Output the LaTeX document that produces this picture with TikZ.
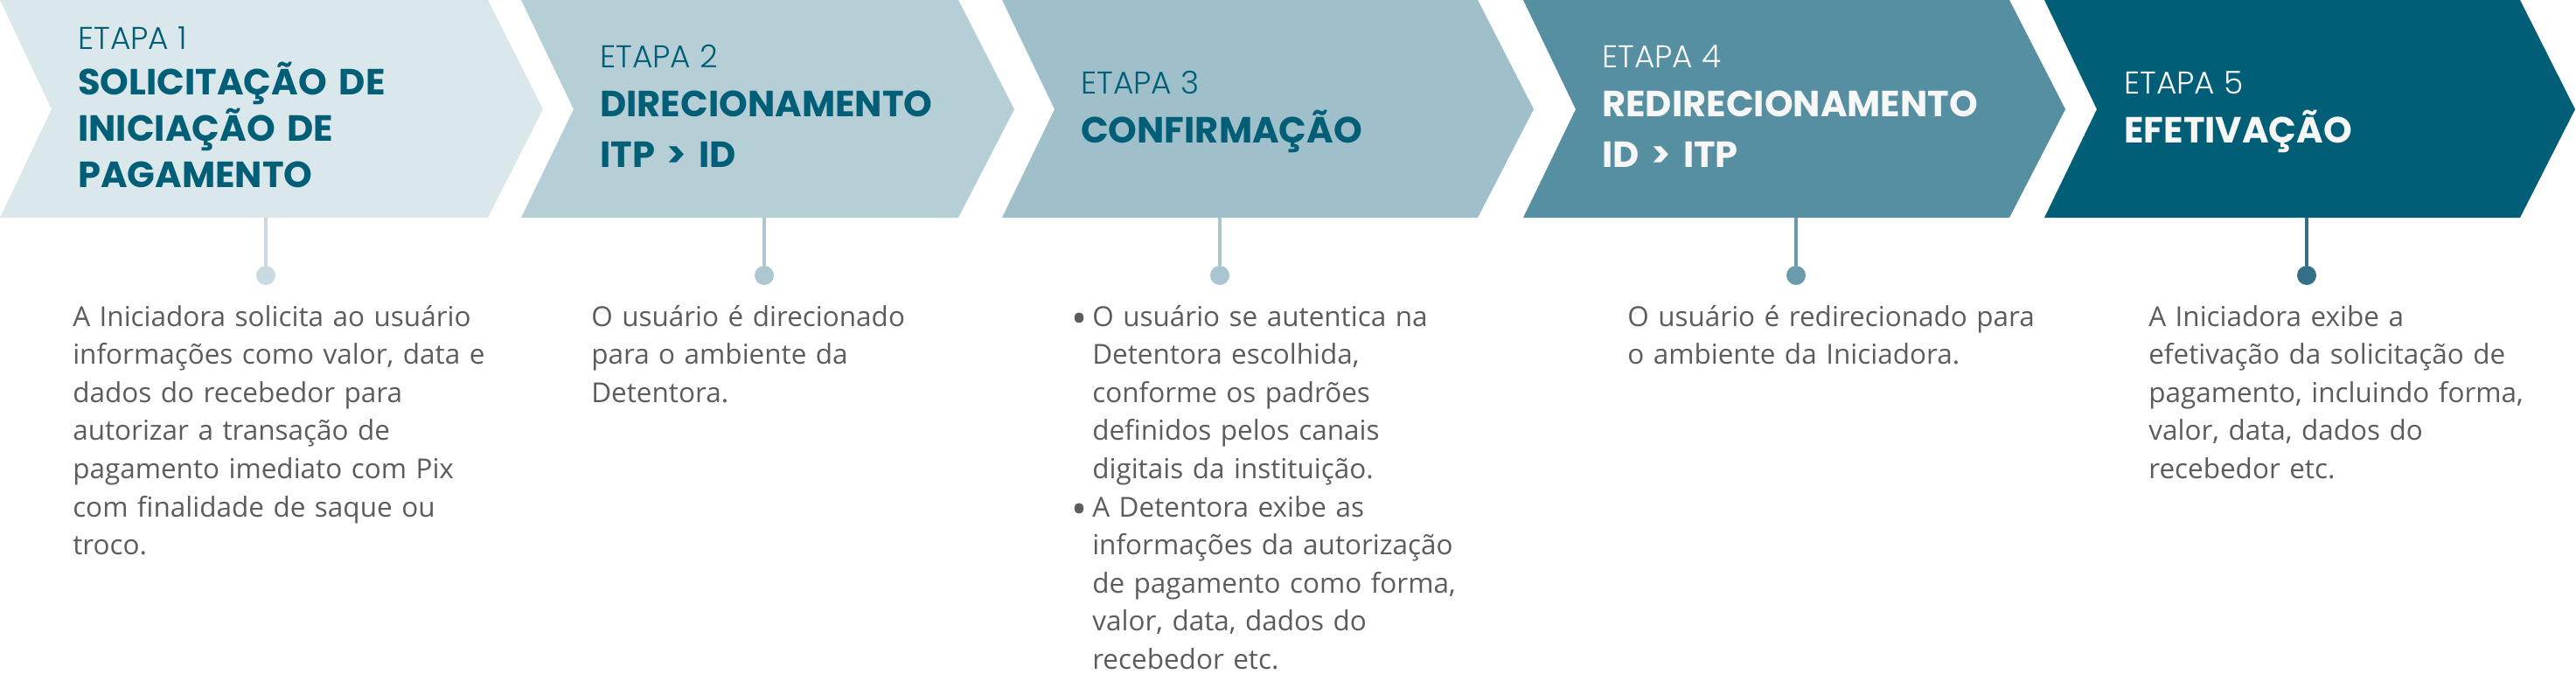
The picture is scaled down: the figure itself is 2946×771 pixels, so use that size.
\documentclass[tikz,border=0pt]{standalone}
\usepackage{fontspec}
\setmainfont{Open Sans}
\newfontfamily\titlefont{Poppins}
\newfontfamily\etapafont{Poppins Light}
\definecolor{cA}{HTML}{DAE7EB}
\definecolor{cB}{HTML}{B6CFD6}
\definecolor{cC}{HTML}{9FBFCA}
\definecolor{cD}{HTML}{568FA2}
\definecolor{cE}{HTML}{005F77}
\definecolor{dA}{HTML}{C9DAE0}
\definecolor{dB}{HTML}{ACC7D1}
\definecolor{dC}{HTML}{A9C5CF}
\definecolor{dD}{HTML}{6C9BAE}
\definecolor{dE}{HTML}{346F88}
\definecolor{tdark}{HTML}{005E77}
\definecolor{tlight}{HTML}{F7F7F7}
\definecolor{body}{HTML}{5C5C5C}
\newcommand\drawchev[5]{\fill[#5] (#1,0) -- (#3,0) -- (#4,125) -- (#3,249) -- (#1,249) -- (#2,125) -- cycle;}
\newcommand\blt{\makebox[18pt][l]{\raisebox{-6pt}{\fontsize{36pt}{36pt}\selectfont •}}}
\newcommand\ind{\hspace*{18pt}}
\begin{document}
\begin{tikzpicture}[x=0.75pt,y=-0.75pt,
  etapa/.style={anchor=base west,inner sep=0pt,font=\etapafont\fontsize{27pt}{32pt}\selectfont},
  ttl/.style={anchor=base west,inner sep=0pt,align=left,text width=420pt,font=\titlefont\bfseries\fontsize{31.2pt}{#1}\selectfont},
  bodytxt/.style={anchor=base west,inner sep=0pt,align=left,text width=420pt,text=body,font=\fontsize{23.6pt}{32.7pt}\selectfont},
  dot/.style={circle,inner sep=0pt,minimum size=16.5pt},
  conn/.style={line width=3pt}]
\useasboundingbox (0,0) rectangle (2946,771);
% chevrons
\drawchev{0}{59}{558}{621}{cA}
\drawchev{596}{656}{1096}{1160}{cB}
\drawchev{1146}{1206}{1690}{1754}{cC}
\drawchev{1742}{1802}{2298}{2362}{cD}
\drawchev{2338}{2398}{2882}{2945}{cE}
% headers
\node[etapa,text=tdark] (e1) at (89,56) {ETAPA 1};
\node[ttl=40pt,text=tdark] (t1) at (89,108) {SOLICITAÇÃO DE\\INICIAÇÃO DE\\PAGAMENTO};
\node[etapa,text=tdark] (e2) at (686,77) {ETAPA 2};
\node[ttl=44pt,text=tdark] (t2) at (686,133) {DIRECIONAMENTO\\ITP > ID};
\node[etapa,text=tdark] (e3) at (1236,107) {ETAPA 3};
\node[ttl=40pt,text=tdark] (t3) at (1236,163) {CONFIRMAÇÃO};
\node[etapa,text=tlight] (e4) at (1832,77) {ETAPA 4};
\node[ttl=44pt,text=tlight] (t4) at (1832,133) {REDIRECIONAMENTO\\ID > ITP};
\node[etapa,text=tlight] (e5) at (2429,107) {ETAPA 5};
\node[ttl=40pt,text=tlight] (t5) at (2429,163) {EFETIVAÇÃO};
% connectors
\coordinate (b1) at (304,249); \node[dot,fill=dA] (d1) at (304,315) {};
\coordinate (b2) at (874,249); \node[dot,fill=dB] (d2) at (874,315) {};
\coordinate (b3) at (1395,249); \node[dot,fill=dC] (d3) at (1395,315) {};
\coordinate (b4) at (2054,249); \node[dot,fill=dD] (d4) at (2054,315) {};
\coordinate (b5) at (2638,249); \node[dot,fill=dE] (d5) at (2638,315) {};
\draw[conn,dA] (b1) -- (d1);
\draw[conn,dB] (b2) -- (d2);
\draw[conn,dC] (b3) -- (d3);
\draw[conn,dD] (b4) -- (d4);
\draw[conn,dE] (b5) -- (d5);
% body texts
\node[bodytxt] (x1) at (83,373) {A Iniciadora solicita ao usuário\\informações como valor, data e\\dados do recebedor para\\autorizar a transação de\\pagamento imediato com Pix\\com finalidade de saque ou\\troco.};
\node[bodytxt] (x2) at (676,373) {O usuário é direcionado\\para o ambiente da\\Detentora.};
\node[bodytxt] (x3) at (1225,373) {\blt O usuário se autentica na\\\ind Detentora escolhida,\\\ind conforme os padrões\\\ind definidos pelos canais\\\ind digitais da instituição.\\\blt A Detentora exibe as\\\ind informações da autorização\\\ind de pagamento como forma,\\\ind valor, data, dados do\\\ind recebedor etc.};
\node[bodytxt] (x4) at (1861,373) {O usuário é redirecionado para\\o ambiente da Iniciadora.};
\node[bodytxt] (x5) at (2457,373) {A Iniciadora exibe a\\efetivação da solicitação de\\pagamento, incluindo forma,\\valor, data, dados do\\recebedor etc.};
\end{tikzpicture}
\end{document}
